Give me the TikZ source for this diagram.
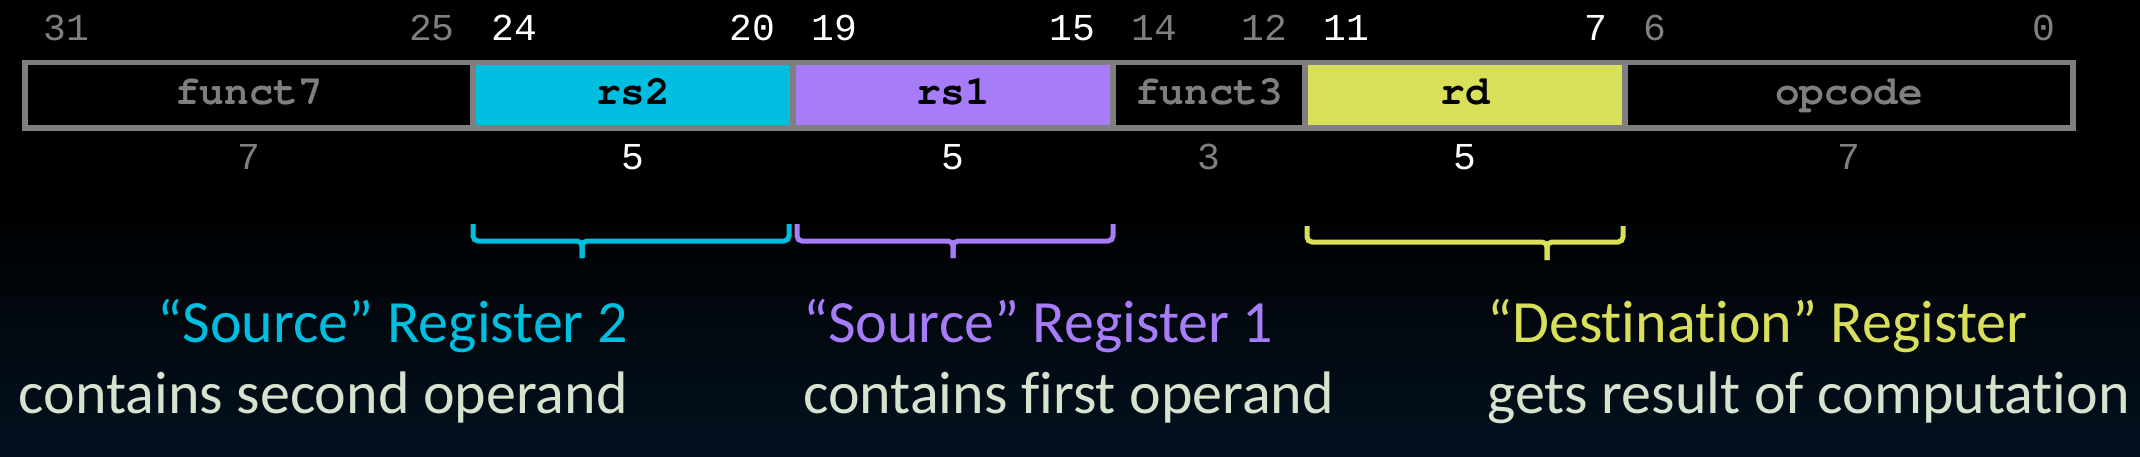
\documentclass[tikz,border=0pt]{standalone}
\usepackage{fontspec}
\setmainfont{Carlito}[RawFeature={-liga;-calt;-clig;-dlig}]
\newfontfamily\fieldfont{texgyrecursor-bold.otf}
\newfontfamily\bitfont{Liberation Mono}
\definecolor{cyanF}{HTML}{00BEE0}
\definecolor{purpF}{HTML}{A77CF8}
\definecolor{yelF}{HTML}{DADF5A}
\definecolor{grayF}{HTML}{7F7F7F}
\definecolor{txtC}{HTML}{D6E3CF}
\definecolor{bgBot}{HTML}{03111F}
\tikzset{
  field/.style={draw=grayF, line width=5.5pt, outer sep=0pt, inner sep=0pt,
    minimum height=65.5pt, anchor=north west, text height=28pt, text depth=9pt,
    font=\fieldfont\fontsize{41}{41}\selectfont},
  bitnum/.style={inner sep=0pt, font=\bitfont\fontsize{38}{38}\selectfont},
  desc/.style={inner sep=0pt, font=\fontsize{60}{72}\selectfont},
  brc/.style={line width=5pt, rounded corners=5pt}
}
\begin{document}
\begin{tikzpicture}[x=1pt,y=-1pt]
\useasboundingbox (0,0) rectangle (2140,457);
\fill[black] (0,0) rectangle (2140,457);
\shade[top color=black, bottom color=bgBot] (0,200) rectangle (2140,457);
% fields
\node[field, minimum width=448pt, fill=black, text=grayF] (f7) at (25,62.75) {funct7};
\node[field, minimum width=320pt, fill=cyanF, text=black] (rs2) at (473,62.75) {rs2};
\node[field, minimum width=320pt, fill=purpF, text=black] (rs1) at (793,62.75) {rs1};
\node[field, minimum width=192pt, fill=black, text=grayF] (f3) at (1113,62.75) {funct3};
\node[field, minimum width=320pt, fill=yelF, text=black] (rd) at (1305,62.75) {rd};
\node[field, minimum width=448pt, fill=black, text=grayF] (op) at (1625,62.75) {opcode};
% bit numbers
\node[bitnum, anchor=base west, text=grayF] (b31) at (43,41) {31};
\node[bitnum, anchor=base east, text=grayF] (b25) at (455,41) {25};
\node[bitnum, anchor=base west, text=white] (b24) at (491,41) {24};
\node[bitnum, anchor=base east, text=white] (b20) at (775,41) {20};
\node[bitnum, anchor=base west, text=white] (b19) at (811,41) {19};
\node[bitnum, anchor=base east, text=white] (b15) at (1095,41) {15};
\node[bitnum, anchor=base west, text=grayF] (b14) at (1131,41) {14};
\node[bitnum, anchor=base east, text=grayF] (b12) at (1287,41) {12};
\node[bitnum, anchor=base west, text=white] (b11) at (1323,41) {11};
\node[bitnum, anchor=base east, text=white] (b7) at (1607,41) {7};
\node[bitnum, anchor=base west, text=grayF] (b6) at (1643,41) {6};
\node[bitnum, anchor=base east, text=grayF] (b0) at (2055,41) {0};
% widths
\node[bitnum, anchor=base, text=grayF] (w7) at (249,170) {7};
\node[bitnum, anchor=base, text=white] (w5a) at (633,170) {5};
\node[bitnum, anchor=base, text=white] (w5b) at (953,170) {5};
\node[bitnum, anchor=base, text=grayF] (w3) at (1209,170) {3};
\node[bitnum, anchor=base, text=white] (w5c) at (1465,170) {5};
\node[bitnum, anchor=base, text=grayF] (w7b) at (1849,170) {7};
% braces
\draw[brc, cyanF] (473,224) |- (582,241) -- (582,258);
\draw[brc, cyanF] (582,258) -- (582,241) -| (789,224);
\draw[brc, purpF] (797,224) |- (953,241) -- (953,258);
\draw[brc, purpF] (953,258) -- (953,241) -| (1113,224);
\draw[brc, yelF] (1307,226) |- (1547,242) -- (1547,260);
\draw[brc, yelF] (1547,260) -- (1547,242) -| (1623,226);
% descriptions
\node[desc, anchor=base east, text=cyanF] (s2a) at (628,342) {“Source” Register 2};
\node[desc, anchor=base east, text=txtC] (s2b) at (628,413) {contains second operand};
\node[desc, anchor=base west, text=purpF] (s1a) at (803,342) {“Source” Register 1};
\node[desc, anchor=base west, text=txtC] (s1b) at (803,413) {contains first operand};
\node[desc, anchor=base west, text=yelF] (da) at (1487,342) {“Destination” Register};
\node[desc, anchor=base west, text=txtC] (db) at (1487,413) {gets result of computation};
\end{tikzpicture}
\end{document}
